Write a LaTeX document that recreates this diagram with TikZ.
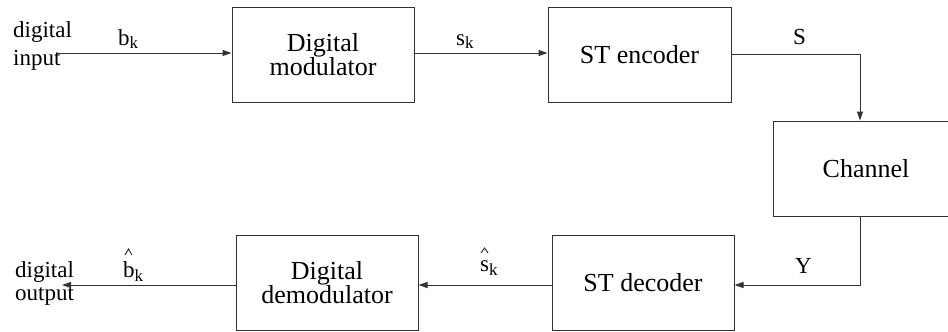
\documentclass[tikz,border=0pt]{standalone}
\usepackage{fontspec}
\setmainfont{Liberation Serif}
\usetikzlibrary{arrows.meta}
% symbol with a lowered index
\newcommand\sublbl[2]{#1\raisebox{-4pt}{\fontsize{17}{17}\selectfont #2}}
\begin{document}
\begin{tikzpicture}[x=1pt,y=-1pt,
  box/.style={draw=black!80, line width=1pt, minimum width=182pt,
    minimum height=95pt, inner sep=0pt, align=center,
    font=\fontsize{26}{24}\selectfont},
  lbl/.style={inner sep=0pt, anchor=base west, font=\fontsize{23}{23}\selectfont},
  conn/.style={draw=black!80, line width=1pt},
  arr/.style={conn, -{Triangle[length=9pt,width=6pt]}},
  caret/.style={draw=black!85, line width=0.9pt}]
\useasboundingbox (0,0) rectangle (948,332);
\clip (0,0) rectangle (948,332);

% blocks
\node[box] (mod) at (323,54.5) {Digital\\modulator};
\node[box, minimum width=183pt] (enc) at (639.5,54.5) {ST encoder};
\node[box, minimum width=186pt] (chan) at (866,168.5) {Channel};
\node[box] (dec) at (643,282.5) {ST decoder};
\node[box] (demod) at (327,282.5) {Digital\\demodulator};

% terminal texts
\node[lbl] (inlbl) at (13,65) {\vbox{\baselineskip=28pt\hbox{digital}\hbox{input}}};
\node[lbl] (outlbl) at (15,300) {\vbox{\baselineskip=23pt\hbox{digital}\hbox{output}}};

\coordinate (src) at (57,53);
\coordinate (snk) at (62,285);
\coordinate (cx) at (860,0);

% connectors
\draw[arr] (src) -- (mod.west |- src);
\draw[arr] (mod.east |- src) -- (enc.west |- src);
\draw[arr] (enc.east) -| (cx |- chan.north);
\draw[arr] (cx |- chan.south) |- (dec.east |- snk);
\draw[arr] (dec.west |- snk) -- (demod.east |- snk);
\draw[arr] (demod.west |- snk) -- (snk);

% signal labels
\node[lbl] (bk) at (118,45) {\sublbl{b}{k}};
\node[lbl] (sk) at (456,45) {\sublbl{s}{k}};
\node[lbl] (S) at (793,44) {S};
\node[lbl] (Y) at (795,273) {Y};
\node[lbl] (shat) at (480,271) {\sublbl{s}{k}};
\node[lbl] (bhat) at (123,277) {\sublbl{b}{k}};

% estimate carets over the received symbols
\draw[caret] ([shift={(1,-18)}]shat.base west) -- ++(3.5,-5) -- ++(3.5,5);
\draw[caret] ([shift={(2,-22)}]bhat.base west) -- ++(3.5,-6) -- ++(3.5,6);
\end{tikzpicture}
\end{document}
